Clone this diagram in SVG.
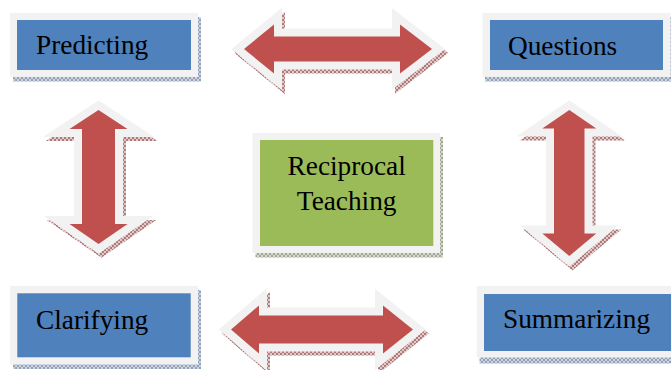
<svg xmlns="http://www.w3.org/2000/svg" width="671" height="370" viewBox="0 0 671 370">
<defs>
<pattern id="hb" patternUnits="userSpaceOnUse" width="4" height="4">
<rect width="4" height="4" fill="#ccd4df"/>
<path d="M0 0L4 4M4 0L0 4" stroke="#7a8daa" stroke-width="0.7"/>
</pattern>
<pattern id="hg" patternUnits="userSpaceOnUse" width="4" height="4">
<rect width="4" height="4" fill="#d6d9cc"/>
<path d="M0 0L4 4M4 0L0 4" stroke="#8a9478" stroke-width="0.7"/>
</pattern>
<pattern id="hr" patternUnits="userSpaceOnUse" width="4" height="4">
<rect width="4" height="4" fill="#e2caca"/>
<path d="M0 0L4 4M4 0L0 4" stroke="#985858" stroke-width="0.7"/>
</pattern>
</defs>
<style>
.frame{fill:#f2f2f2}
.blue{fill:#4f81bd}
.green{fill:#9bbb59}
.arr{fill:#c0504d;stroke:#f2f2f2;stroke-width:16;stroke-linejoin:miter;stroke-miterlimit:6;paint-order:stroke}
.ash{fill:url(#hr);stroke:url(#hr);stroke-width:16;stroke-linejoin:miter;stroke-miterlimit:6}
</style>

<g id="connectors">
<g id="arrow-top">
<polygon class="ash" transform="translate(3,4)" points="244,49 274,24.5 274,36.5 400,36.5 400,24.5 432,49 400,73.5 400,61.5 274,61.5 274,73.5"/>
<polygon class="arr" points="244,49 274,24.5 274,36.5 400,36.5 400,24.5 432,49 400,73.5 400,61.5 274,61.5 274,73.5"/>
</g>
<g id="arrow-bottom">
<polygon class="ash" transform="translate(3,4)" points="231,329.5 259,305.5 259,315.5 383,315.5 383,305.5 413,329.5 383,353.5 383,343.5 259,343.5 259,353.5"/>
<polygon class="arr" points="231,329.5 259,305.5 259,315.5 383,315.5 383,305.5 413,329.5 383,353.5 383,343.5 259,343.5 259,353.5"/>
</g>
<g id="arrow-left">
<polygon class="ash" transform="translate(3,4)" points="98.5,110 127.5,129 115,129 115,224 127.5,224 98.5,244 69.5,224 82,224 82,129 69.5,129"/>
<polygon class="arr" points="98.5,110 127.5,129 115,129 115,224 127.5,224 98.5,244 69.5,224 82,224 82,129 69.5,129"/>
</g>
<g id="arrow-right">
<polygon class="ash" transform="translate(3,4)" points="569.3,110 596.3,128.5 584.5,128.5 584.5,233.5 596.3,233.5 569.3,256 542.3,233.5 554,233.5 554,128.5 542.3,128.5"/>
<polygon class="arr" points="569.3,110 596.3,128.5 584.5,128.5 584.5,233.5 596.3,233.5 569.3,256 542.3,233.5 554,233.5 554,128.5 542.3,128.5"/>
</g>
</g>

<g id="predicting">
<rect x="13" y="17" width="188" height="64.5" fill="url(#hb)"/>
<rect class="frame" x="10" y="13" width="188" height="64"/>
<rect class="blue" x="17" y="20" width="174" height="50"/>
<text x="36" y="54" font-family="'Liberation Serif', serif" font-size="27.3" fill="#000">Predicting</text>
</g>

<g id="questions">
<rect x="485" y="17" width="188" height="64.5" fill="url(#hb)"/>
<rect class="frame" x="482.5" y="13" width="188" height="64"/>
<rect class="blue" x="490" y="20" width="173" height="50"/>
<text x="508" y="55" font-family="'Liberation Serif', serif" font-size="27.3" fill="#000">Questions</text>
</g>

<g id="reciprocal">
<rect x="255.5" y="137" width="187.5" height="120.5" fill="url(#hg)"/>
<rect class="frame" x="252.5" y="133" width="187.5" height="120"/>
<rect class="green" x="260" y="140" width="173.3" height="106"/>
<text x="346.7" y="175" text-anchor="middle" font-family="'Liberation Serif', serif" font-size="27.3" fill="#000">Reciprocal</text>
<text x="346.7" y="210" text-anchor="middle" font-family="'Liberation Serif', serif" font-size="27.3" fill="#000">Teaching</text>
</g>

<g id="clarifying">
<rect x="13" y="290" width="188" height="79" fill="url(#hb)"/>
<rect class="frame" x="10" y="286" width="188" height="78.5"/>
<rect class="blue" x="17.3" y="293.3" width="173.4" height="64"/>
<text x="36" y="329" font-family="'Liberation Serif', serif" font-size="27.3" fill="#000">Clarifying</text>
</g>

<g id="summarizing">
<rect x="479.5" y="290" width="200" height="73.5" fill="url(#hb)"/>
<rect class="frame" x="476.7" y="286" width="200" height="71.5"/>
<rect class="blue" x="484" y="294" width="200" height="57"/>
<text x="503" y="328" font-family="'Liberation Serif', serif" font-size="27.3" fill="#000">Summarizing</text>
</g>
</svg>
